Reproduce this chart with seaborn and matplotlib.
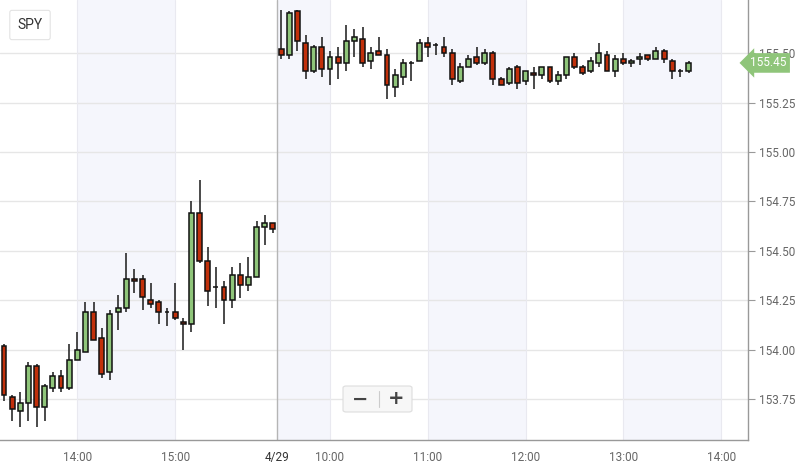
import matplotlib
matplotlib.use("Agg")
import matplotlib.pyplot as plt
import matplotlib.transforms as mtransforms
from matplotlib.patches import FancyBboxPatch
import seaborn as sns

# 5-minute SPY candles: 4/26 13:15-16:00, then 4/29 09:30-13:40
opens = [154.02, 153.76, 153.69, 153.73, 153.92, 153.71, 153.81, 153.87, 153.81, 153.95,
         153.99, 154.19, 154.06, 153.89, 154.19, 154.21, 154.36, 154.36, 154.25, 154.24,
         154.19, 154.19, 154.14, 154.13, 154.69, 154.45, 154.32, 154.32, 154.25, 154.38,
         154.33, 154.37, 154.62, 154.64,
         155.52, 155.49, 155.71, 155.55, 155.41, 155.53, 155.42, 155.48, 155.45, 155.56,
         155.57, 155.46, 155.51, 155.49, 155.33, 155.38, 155.45, 155.46, 155.55, 155.54,
         155.53, 155.50, 155.36, 155.43, 155.48, 155.45, 155.50, 155.37, 155.35, 155.43,
         155.36, 155.40, 155.39, 155.43, 155.36, 155.39, 155.48, 155.43, 155.41, 155.45,
         155.49, 155.41, 155.47, 155.45, 155.47, 155.49, 155.47, 155.51, 155.46, 155.41,
         155.41]
highs = [154.03, 153.77, 153.79, 153.94, 153.93, 153.83, 153.89, 153.90, 154.03, 154.09,
         154.24, 154.24, 154.11, 154.20, 154.28, 154.49, 154.41, 154.38, 154.34, 154.25,
         154.21, 154.34, 154.16, 154.75, 154.86, 154.52, 154.42, 154.35, 154.42, 154.44,
         154.47, 154.65, 154.68, 154.64,
         155.72, 155.71, 155.72, 155.59, 155.54, 155.58, 155.51, 155.53, 155.64, 155.62,
         155.63, 155.53, 155.58, 155.52, 155.42, 155.47, 155.46, 155.57, 155.58, 155.55,
         155.58, 155.52, 155.45, 155.49, 155.53, 155.52, 155.51, 155.38, 155.43, 155.44,
         155.41, 155.43, 155.43, 155.43, 155.41, 155.48, 155.50, 155.44, 155.48, 155.55,
         155.51, 155.49, 155.50, 155.47, 155.50, 155.49, 155.53, 155.52, 155.47, 155.42,
         155.46]
lows = [153.74, 153.64, 153.61, 153.64, 153.61, 153.64, 153.79, 153.79, 153.80, 153.95,
        153.99, 154.05, 153.86, 153.85, 154.10, 154.19, 154.29, 154.20, 154.21, 154.13,
        154.12, 154.15, 154.00, 154.09, 154.44, 154.22, 154.21, 154.13, 154.21, 154.26,
        154.30, 154.37, 154.53, 154.59,
        155.47, 155.47, 155.51, 155.37, 155.40, 155.38, 155.34, 155.37, 155.41, 155.48,
        155.43, 155.42, 155.49, 155.27, 155.28, 155.34, 155.36, 155.46, 155.48, 155.49,
        155.48, 155.34, 155.35, 155.43, 155.44, 155.44, 155.34, 155.34, 155.34, 155.32,
        155.34, 155.32, 155.37, 155.35, 155.34, 155.37, 155.42, 155.39, 155.40, 155.43,
        155.41, 155.38, 155.44, 155.43, 155.44, 155.46, 155.47, 155.45, 155.37, 155.38,
        155.40]
closes = [153.77, 153.70, 153.73, 153.92, 153.71, 153.82, 153.87, 153.81, 153.95, 154.00,
          154.19, 154.05, 153.88, 154.18, 154.21, 154.36, 154.35, 154.27, 154.23, 154.19,
          154.19, 154.16, 154.13, 154.69, 154.45, 154.30, 154.32, 154.25, 154.38, 154.33,
          154.37, 154.62, 154.64, 154.61,
          155.49, 155.70, 155.56, 155.41, 155.53, 155.42, 155.48, 155.45, 155.56, 155.58,
          155.45, 155.50, 155.49, 155.34, 155.39, 155.45, 155.45, 155.55, 155.53, 155.54,
          155.50, 155.37, 155.43, 155.47, 155.45, 155.50, 155.37, 155.34, 155.42, 155.35,
          155.41, 155.39, 155.43, 155.36, 155.39, 155.48, 155.43, 155.40, 155.46, 155.50,
          155.41, 155.47, 155.45, 155.46, 155.48, 155.47, 155.51, 155.47, 155.41, 155.41,
          155.45]

day1_start = "13:15"   # first candle of 4/26
day2_start = "09:30"   # first candle of 4/29
day1_count = 34
last_price = 155.45

tick_labels = ["14:00", "15:00", "4/29", "10:00", "11:00", "12:00", "13:00", "14:00"]
tick_days = [1, 1, 2, 2, 2, 2, 2, 2]
y_ticks = [153.75, 154.00, 154.25, 154.50, 154.75, 155.00, 155.25, 155.50]


def minutes(t):
    h, m = t.split(":")
    return int(h) * 60 + int(m)


def pos(label, day):
    # ordinal (candle index) position of a time on the compressed axis
    if label == "4/29":
        return day1_count - 0.5
    if day == 1:
        return (minutes(label) - minutes(day1_start)) / 5
    return day1_count + (minutes(label) - minutes(day2_start)) / 5


tick_pos = [pos(l, d) for l, d in zip(tick_labels, tick_days)]

sns.set_theme(style="white")
plt.rcParams["font.family"] = ["Roboto", "DejaVu Sans"]

fig = plt.figure(figsize=(7.96, 4.63), dpi=100)
ax = fig.add_axes([0, 23 / 463, 748 / 796, 440 / 463])

# alternating hour bands
for a, b in [(tick_pos[0], tick_pos[1]), (tick_pos[2], tick_pos[3]),
             (tick_pos[4], tick_pos[5]), (tick_pos[6], tick_pos[7])]:
    ax.axvspan(a, b, color="#f5f6fc", zorder=0, lw=0)
for p, l in zip(tick_pos, tick_labels):
    if l != "4/29":
        ax.axvline(p, color="#e9e9f0", lw=0.8, zorder=0.5)
ax.axvline(tick_pos[2], color="#b5b5b5", lw=1, zorder=0.6)

for yv in y_ticks:
    ax.axhline(yv, color="#e6e6e6", lw=1, zorder=0.4)

idx = list(range(len(opens)))
green = "#8fc57a"
red = "#c1300b"
colors = [green if c >= o else red for o, c in zip(opens, closes)]
bottoms = [min(o, c) for o, c in zip(opens, closes)]
heights = [abs(c - o) for o, c in zip(opens, closes)]

ax.vlines(idx, lows, highs, color="#2b2b2b", lw=1.2, zorder=2)
ax.bar(idx, heights, bottom=bottoms, width=0.6, color=colors,
       edgecolor="#111111", linewidth=1.1, zorder=3)

ax.set_xlim(-0.49, 91.3)
ax.set_ylim(153.545, 155.768)

ax.yaxis.tick_right()
ax.set_yticks(y_ticks)
ax.set_yticklabels([f"{v:.2f}" for v in y_ticks])
ax.set_xticks(tick_pos)
ax.set_xticklabels(tick_labels)
ax.tick_params(axis="both", direction="out", length=5, width=0.8, color="#999999",
               labelsize=8.5, labelcolor="#666666", pad=3)
for t in ax.get_xticklabels():
    t.set_color("#333333" if t.get_text() == "4/29" else "#666666")

for s in ["top", "left"]:
    ax.spines[s].set_visible(False)
for s in ["right", "bottom"]:
    ax.spines[s].set_color("#999999")
    ax.spines[s].set_linewidth(1)

# last price badge on the axis
trans = mtransforms.blended_transform_factory(ax.transAxes, ax.transData)
ax.text(1.003, last_price, f"{last_price:.2f}", transform=trans, ha="left", va="center",
        fontsize=8.5, color="white", clip_on=False, zorder=10,
        bbox=dict(boxstyle="larrow,pad=0.28", fc="#8fc57a", ec="none"))

# SPY symbol button
fig.text(30 / 796, 1 - 25 / 463, "SPY", ha="center", va="center", fontsize=10,
         color="#333333",
         bbox=dict(boxstyle="round,pad=0.55,rounding_size=0.15", fc="white",
                   ec="#e3e3e3", lw=0.8))

# zoom buttons
box = FancyBboxPatch((343 / 796, 1 - 412 / 463), 69 / 796, 26 / 463,
                     boxstyle="round,pad=0,rounding_size=0.004", transform=fig.transFigure,
                     fc="#f7f7f7", ec="#dddddd", lw=0.8, zorder=20)
fig.patches.append(box)
fig.text(360 / 796, 1 - 399 / 463, "\u2212", ha="center", va="center", fontsize=14,
         fontweight="bold", color="#444444", zorder=21, family="DejaVu Sans")
fig.text(396 / 796, 1 - 399 / 463, "+", ha="center", va="center", fontsize=14,
         fontweight="bold", color="#444444", zorder=21, family="DejaVu Sans")
fig.lines.append(plt.Line2D([379 / 796, 379 / 796], [1 - 391 / 463, 1 - 407 / 463],
                            transform=fig.transFigure, color="#cccccc", lw=0.8, zorder=21))

fig.savefig("out.png", dpi=100)
